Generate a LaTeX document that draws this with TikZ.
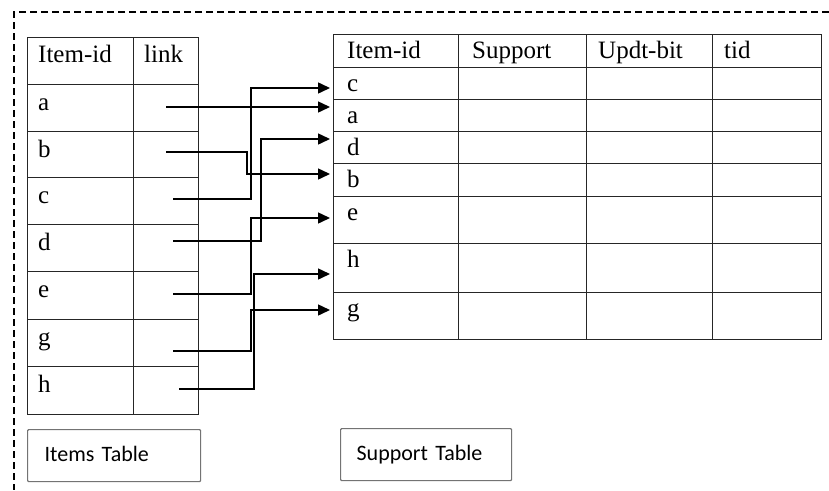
\documentclass[tikz,border=0pt]{standalone}
\usepackage{fontspec}
\setmainfont{Liberation Serif}
\newfontfamily\boxfont{Carlito}[WordSpace=0.4]
\usetikzlibrary{arrows.meta}
\begin{document}
\begin{tikzpicture}[x=1pt,y=-1pt,
        cell/.style={anchor=base west, inner sep=0pt, font=\fontsize{25}{25}\selectfont},
        grid/.style={line width=1pt, black!85},
        ptr/.style={line width=1.5pt, -{Triangle[length=12pt,width=11pt]}},
        tablename/.style={draw=black!55, line width=1.2pt, rounded corners=1pt, anchor=north west,
            minimum width=173pt, minimum height=52pt, text width=139pt, inner xsep=17pt,
            text height=17pt, text depth=5pt,
            align=left, font=\boxfont\fontsize{22}{22}\selectfont}]
        \useasboundingbox (0,0) rectangle (829,490);
        \draw[line width=1.5pt, dash pattern=on 7pt off 4pt] (829,12) -| (14,490);
        % items table
        \draw[grid] (27,37) rectangle (198,414);
        \draw[grid] (133,37) -- (133,414);
        \foreach \y in {84,131,177,224,271,319,366} \draw[grid] (27,\y) -- (198,\y);
        \node[cell] (item-head) at (38,62) {Item-id};
        \node[cell] (link-head) at (144,62) {link};
        \foreach \r/\y in {a/84,b/131,c/177,d/224,e/271,g/319,h/366}
            \node[cell] (item-\r) at (38,\y+26) {\r};
        % support table
        \draw[grid] (333,34) rectangle (821,339);
        \foreach \x in {458,586,712} \draw[grid] (\x,34) -- (\x,339);
        \foreach \y in {67,99,131,163,196,243,292} \draw[grid] (333,\y) -- (821,\y);
        \node[cell] (sup-head) at (347,58) {Item-id};
        \node[cell] (cnt-head) at (472,58) {Support};
        \node[cell] (bit-head) at (598,58) {Updt-bit};
        \node[cell] (tid-head) at (724,58) {tid};
        \foreach \r/\y in {c/67,a/99,d/131,b/163,e/196,h/243,g/292}
            \node[cell] (sup-\r) at (347,\y+24) {\r};
        % link pointers
        \foreach \r/\x/\y in {a/166/107,b/166/152,c/173/199,d/173/241,e/173/294,g/173/351,h/179/389}
            \coordinate (lk-\r) at (\x,\y);
        \foreach \r/\y in {c/88,a/107,d/139,b/174,e/218,h/274,g/310}
            \coordinate (in-\r) at (330,\y);
        \draw[ptr] (lk-a) -- (in-a);
        \foreach \r/\dx in {b/81,c/78,d/88,e/78,g/78,h/75}
            \draw[ptr] (lk-\r) -- ++(\dx,0) |- (in-\r);
        \node[tablename] (items-name) at (27,429) {Items Table};
        \node[tablename, minimum width=171pt, inner xsep=16pt] (sup-name) at (340,428) {Support Table};
    \end{tikzpicture}
\end{document}
